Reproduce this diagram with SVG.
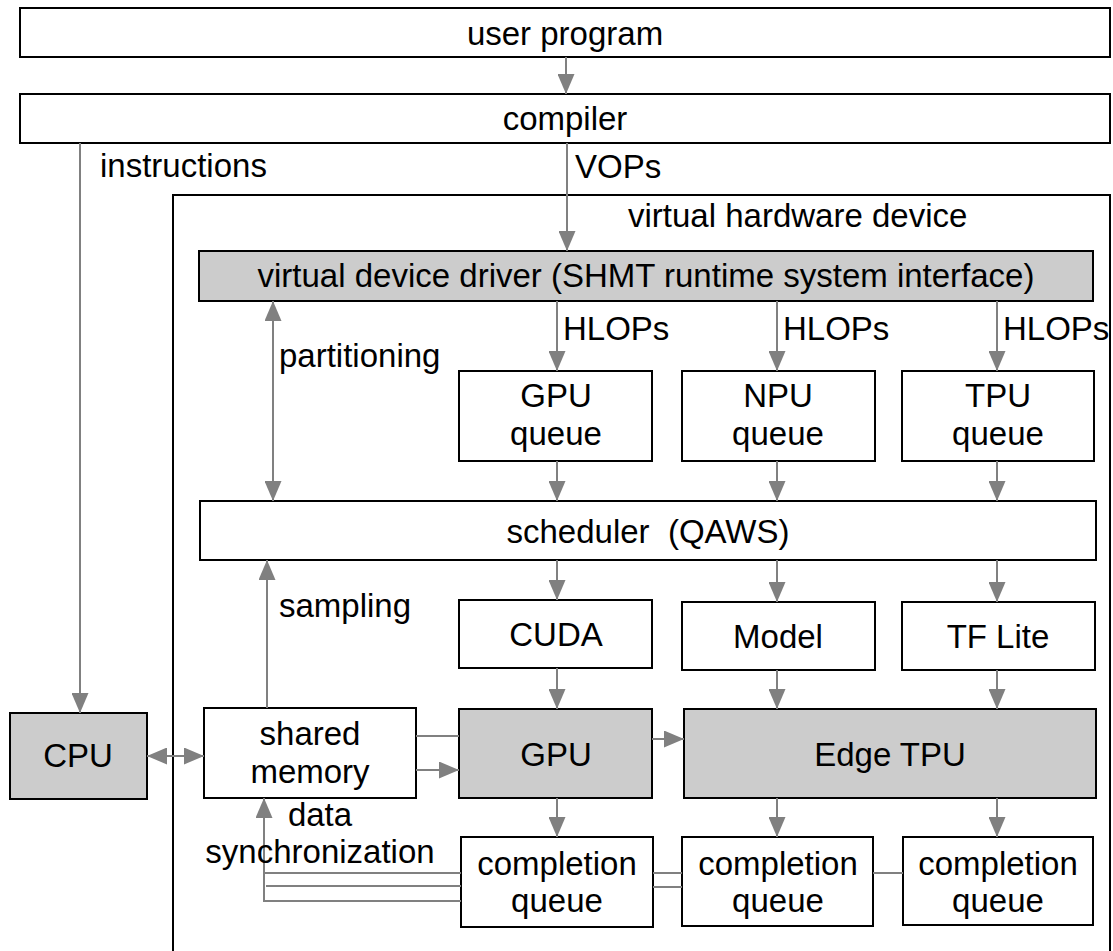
<svg xmlns="http://www.w3.org/2000/svg" width="1113" height="951" viewBox="0 0 1113 951">
<style>
.box{fill:#fff;stroke:#000;stroke-width:2}
.hw{fill:#cccccc;stroke:#000;stroke-width:2}
.t{font-family:"Liberation Sans",Arial,Helvetica,sans-serif;font-size:33px;fill:#000}
.c{text-anchor:middle}
.ln{fill:none;stroke:#808080;stroke-width:2}
.ar{fill:none;stroke:#808080;stroke-width:2;marker-end:url(#ah)}
.bi{fill:none;stroke:#808080;stroke-width:2;marker-start:url(#ah);marker-end:url(#ah)}
</style>
<defs>
<marker id="ah" markerUnits="userSpaceOnUse" markerWidth="20" markerHeight="17" refX="20" refY="8.5" orient="auto-start-reverse">
<path d="M0,0 L20,8.5 L0,17 z" fill="#808080"/>
</marker>
</defs>
<rect width="1113" height="951" fill="#fff"/>

<g id="virtual-hardware-device">
<rect x="173" y="195" width="937" height="780" class="box"/>
<text x="628" y="227" class="t">virtual hardware device</text>
</g>

<g id="user-program">
<rect x="20" y="8" width="1090" height="49" class="box"/>
<text x="565" y="45" class="t c">user program</text>
</g>

<g id="compiler">
<rect x="20" y="94" width="1090" height="49" class="box"/>
<text x="565" y="130" class="t c">compiler</text>
</g>

<g id="driver">
<rect x="199" y="251" width="894" height="50" class="hw"/>
<text x="646" y="287" class="t c">virtual device driver (SHMT runtime system interface)</text>
</g>

<g id="gpu-queue">
<rect x="459" y="371" width="193" height="90" class="box"/>
<text x="556" y="407" class="t c">GPU</text>
<text x="556" y="445" class="t c">queue</text>
</g>
<g id="npu-queue">
<rect x="682" y="371" width="193" height="90" class="box"/>
<text x="778" y="407" class="t c">NPU</text>
<text x="778" y="445" class="t c">queue</text>
</g>
<g id="tpu-queue">
<rect x="902" y="371" width="192" height="90" class="box"/>
<text x="998" y="407" class="t c">TPU</text>
<text x="998" y="445" class="t c">queue</text>
</g>

<g id="scheduler">
<rect x="200" y="501" width="896" height="59" class="box"/>
<text x="648" y="543" class="t c" xml:space="preserve">scheduler  (QAWS)</text>
</g>

<g id="cuda">
<rect x="459" y="600" width="193" height="68" class="box"/>
<text x="556" y="646" class="t c">CUDA</text>
</g>
<g id="model">
<rect x="682" y="602" width="193" height="68" class="box"/>
<text x="778" y="648" class="t c">Model</text>
</g>
<g id="tflite">
<rect x="902" y="602" width="193" height="68" class="box"/>
<text x="998" y="648" class="t c">TF Lite</text>
</g>

<g id="cpu">
<rect x="10" y="713" width="137" height="86" class="hw"/>
<text x="78" y="767" class="t c">CPU</text>
</g>

<g id="shared-memory">
<rect x="204" y="708" width="212" height="90" class="box"/>
<text x="310" y="745" class="t c">shared</text>
<text x="310" y="783" class="t c">memory</text>
</g>

<g id="gpu">
<rect x="459" y="709" width="193" height="89" class="hw"/>
<text x="556" y="766" class="t c">GPU</text>
</g>

<g id="edge-tpu">
<rect x="684" y="709" width="412" height="89" class="hw"/>
<text x="890" y="766" class="t c">Edge TPU</text>
</g>

<g id="completion-queue-1">
<rect x="461" y="837" width="192" height="90" class="box"/>
<text x="557" y="875" class="t c">completion</text>
<text x="557" y="912" class="t c">queue</text>
</g>
<g id="completion-queue-2">
<rect x="682" y="837" width="191" height="89" class="box"/>
<text x="778" y="875" class="t c">completion</text>
<text x="778" y="912" class="t c">queue</text>
</g>
<g id="completion-queue-3">
<rect x="903" y="837" width="190" height="88" class="box"/>
<text x="998" y="875" class="t c">completion</text>
<text x="998" y="912" class="t c">queue</text>
</g>

<g id="connectors">
<line x1="566" y1="57" x2="566" y2="94" class="ar"/>
<line x1="567" y1="143" x2="567" y2="251" class="ar"/>
<line x1="80" y1="143" x2="80" y2="713" class="ar"/>

<line x1="557" y1="301" x2="557" y2="371" class="ar"/>
<line x1="777" y1="301" x2="777" y2="371" class="ar"/>
<line x1="997" y1="301" x2="997" y2="371" class="ar"/>

<line x1="273" y1="301" x2="273" y2="501" class="bi"/>

<line x1="557" y1="461" x2="557" y2="501" class="ar"/>
<line x1="777" y1="461" x2="777" y2="501" class="ar"/>
<line x1="997" y1="461" x2="997" y2="501" class="ar"/>

<line x1="557" y1="560" x2="557" y2="600" class="ar"/>
<line x1="777" y1="560" x2="777" y2="602" class="ar"/>
<line x1="997" y1="560" x2="997" y2="602" class="ar"/>

<line x1="557" y1="668" x2="557" y2="709" class="ar"/>
<line x1="777" y1="670" x2="777" y2="709" class="ar"/>
<line x1="997" y1="670" x2="997" y2="709" class="ar"/>

<line x1="267" y1="708" x2="267" y2="560" class="ar"/>

<line x1="147" y1="756" x2="204" y2="756" class="bi"/>

<line x1="416" y1="736" x2="459" y2="736" class="ln"/>
<line x1="416" y1="770" x2="459" y2="770" class="ar"/>
<line x1="652" y1="739" x2="684" y2="739" class="ar"/>

<line x1="557" y1="798" x2="557" y2="837" class="ar"/>
<line x1="777" y1="798" x2="777" y2="837" class="ar"/>
<line x1="997" y1="798" x2="997" y2="837" class="ar"/>

<polyline points="461,901 264,901 264,798" class="ar"/>
<line x1="264" y1="873" x2="461" y2="873" class="ln"/>
<line x1="266" y1="886" x2="461" y2="886" class="ln"/>
<line x1="653" y1="873" x2="682" y2="873" class="ln"/>
<line x1="653" y1="887" x2="682" y2="887" class="ln"/>
<line x1="873" y1="873" x2="903" y2="873" class="ln"/>
</g>

<g id="labels">
<text x="100" y="177" class="t">instructions</text>
<text x="575" y="178" class="t">VOPs</text>
<text x="563" y="340" class="t">HLOPs</text>
<text x="783" y="340" class="t">HLOPs</text>
<text x="1003" y="340" class="t">HLOPs</text>
<text x="279" y="367" class="t">partitioning</text>
<text x="279" y="617" class="t">sampling</text>
<text x="320" y="826" class="t c">data</text>
<text x="320" y="863" class="t c">synchronization</text>
</g>
</svg>
